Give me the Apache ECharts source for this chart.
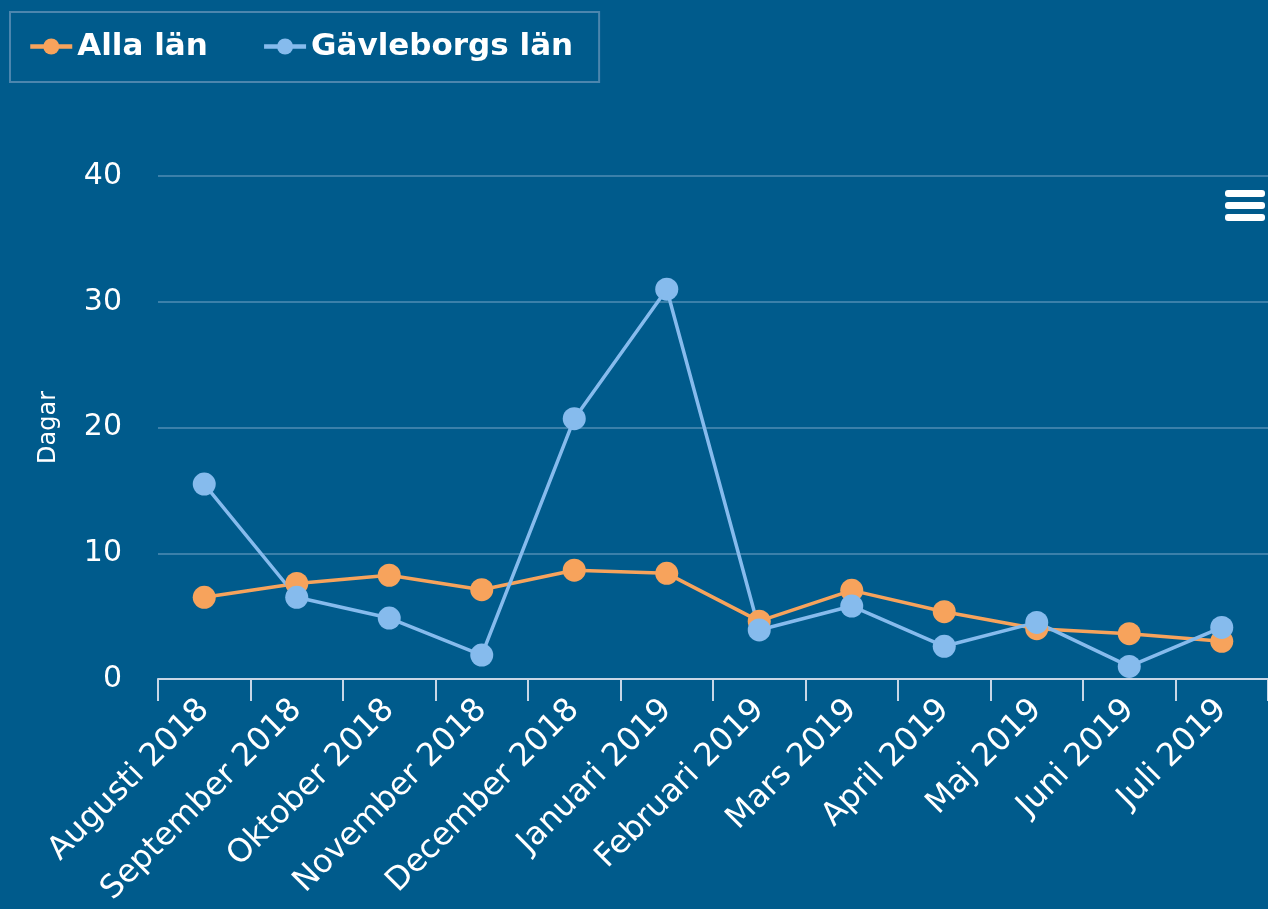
<!DOCTYPE html>
<html>
<head>
<meta charset="utf-8">
<script src="https://cdn.jsdelivr.net/npm/echarts@6/dist/echarts.min.js"></script>
<style>
  html, body { margin: 0; padding: 0; background: #005b8c; }
  #main { width: 1268px; height: 909px; }
</style>
</head>
<body>
<div id="main"></div>
<script>
var months = ['Augusti 2018', 'September 2018', 'Oktober 2018', 'November 2018',
  'December 2018', 'Januari 2019', 'Februari 2019', 'Mars 2019', 'April 2019',
  'Maj 2019', 'Juni 2019', 'Juli 2019'];
var allaLan = [6.5, 7.6, 8.25, 7.1, 8.65, 8.4, 4.6, 7.05, 5.35, 4.0, 3.6, 3.0];
var gavleborg = [15.5, 6.5, 4.85, 1.9, 20.7, 31.0, 3.9, 5.8, 2.6, 4.5, 1.0, 4.1];

var myChart = echarts.init(document.getElementById('main'));

myChart.setOption({
  backgroundColor: '#005b8c',
  animation: false,
  legend: {
    left: 10,
    top: 12,
    padding: [19, 26, 20, 18],
    borderColor: '#4c86ae',
    borderWidth: 2,
    itemWidth: 42,
    itemHeight: 20,
    itemGap: 54,
    lineStyle: { width: 4.5 },
    textStyle: {
      color: '#ffffff',
      fontFamily: 'DejaVu Sans',
      fontWeight: 'bold',
      fontSize: 31
    },
    data: ['Alla län', 'Gävleborgs län']
  },
  grid: {
    left: 158,
    right: 0,
    top: 176,
    bottom: 230
  },
  xAxis: {
    type: 'category',
    data: months,
    boundaryGap: true,
    axisLine: { lineStyle: { color: '#c8d6e6', width: 2 } },
    axisTick: { show: true, length: 22, lineStyle: { color: '#c8d6e6', width: 2 } },
    axisLabel: {
      rotate: 45,
      interval: 0,
      margin: 26,
      color: '#ffffff',
      fontFamily: 'DejaVu Sans',
      fontSize: 32
    }
  },
  yAxis: {
    type: 'value',
    min: 0,
    max: 40,
    interval: 10,
    name: 'Dagar',
    nameLocation: 'middle',
    nameGap: 97,
    nameTextStyle: { color: '#ffffff', fontFamily: 'DejaVu Sans', fontSize: 24 },
    axisLine: { show: false },
    axisTick: { show: false },
    axisLabel: {
      margin: 36,
      color: '#ffffff',
      fontFamily: 'DejaVu Sans',
      fontSize: 30
    },
    splitLine: { lineStyle: { color: '#4f8db5', width: 1.5 } }
  },
  series: [
    {
      name: 'Alla län',
      type: 'line',
      data: allaLan,
      symbol: 'circle',
      symbolSize: 23,
      lineStyle: { color: '#f7a35c', width: 3.5 },
      itemStyle: { color: '#f7a35c' }
    },
    {
      name: 'Gävleborgs län',
      type: 'line',
      data: gavleborg,
      symbol: 'circle',
      symbolSize: 23,
      lineStyle: { color: '#86bbed', width: 3.5 },
      itemStyle: { color: '#86bbed' }
    }
  ],
  graphic: [
    { type: 'rect', shape: { x: 1225, y: 190, width: 40, height: 7, r: 3 }, style: { fill: '#ffffff' } },
    { type: 'rect', shape: { x: 1225, y: 202, width: 40, height: 7, r: 3 }, style: { fill: '#ffffff' } },
    { type: 'rect', shape: { x: 1225, y: 214, width: 40, height: 7, r: 3 }, style: { fill: '#ffffff' } }
  ]
});
</script>
</body>
</html>
